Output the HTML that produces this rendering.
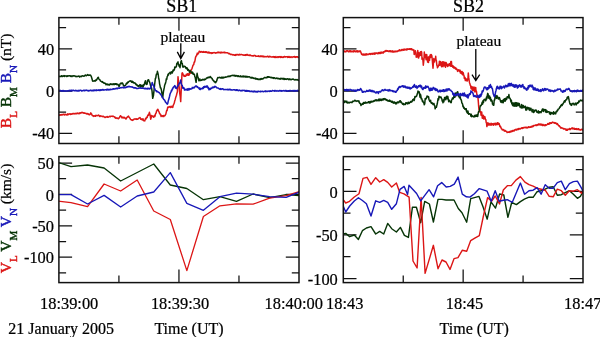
<!DOCTYPE html>
<html><head><meta charset="utf-8"><title>SB1 SB2</title><style>
html,body{margin:0;padding:0;background:#fff;}
body{width:600px;height:337px;overflow:hidden;}
svg{display:block;}
text{font-family:"Liberation Serif", "Times New Roman", serif;fill:#000;stroke:#000;stroke-width:0.22px;}
.tl{font-size:16.4px;}
.ax{font-size:15.5px;}
.bl{font-size:16px;}
</style></head><body>
<svg width="600" height="337" viewBox="0 0 600 337">
<rect width="600" height="337" fill="#fff"/>
<defs><clipPath id="ctl"><rect x="58.9" y="17.6" width="240.1" height="125.9"/></clipPath><clipPath id="ctr"><rect x="343.3" y="17.6" width="239.7" height="125.9"/></clipPath><clipPath id="cbl"><rect x="58.9" y="156.6" width="240.1" height="126"/></clipPath><clipPath id="cbr"><rect x="343.3" y="156.6" width="239.7" height="126"/></clipPath></defs>
<path d="M178.95 17.6v13.2M178.95 143.5v-13.2M118.92 17.6v7.2M118.92 143.5v-7.2M238.97 17.6v7.2M238.97 143.5v-7.2M58.9 48.86h13.2M299 48.86h-13.2M58.9 91.1h13.2M299 91.1h-13.2M58.9 133.34h13.2M299 133.34h-13.2M58.9 27.74h7.2M299 27.74h-7.2M58.9 69.98h7.2M299 69.98h-7.2M58.9 112.22h7.2M299 112.22h-7.2" stroke="#111" stroke-width="1.25" fill="none"/>
<path d="M463.15 17.6v13.2M463.15 143.5v-13.2M403.23 17.6v7.2M403.23 143.5v-7.2M523.08 17.6v7.2M523.08 143.5v-7.2M343.3 48.86h13.2M583 48.86h-13.2M343.3 91.1h13.2M583 91.1h-13.2M343.3 133.34h13.2M583 133.34h-13.2M343.3 27.74h7.2M583 27.74h-7.2M343.3 69.98h7.2M583 69.98h-7.2M343.3 112.22h7.2M583 112.22h-7.2" stroke="#111" stroke-width="1.25" fill="none"/>
<path d="M178.95 156.6v13.2M178.95 282.6v-13.2M118.92 156.6v7.2M118.92 282.6v-7.2M238.97 156.6v7.2M238.97 282.6v-7.2M58.9 163h13.2M299 163h-13.2M58.9 194.4h13.2M299 194.4h-13.2M58.9 225.8h13.2M299 225.8h-13.2M58.9 257.2h13.2M299 257.2h-13.2M58.9 178.7h7.2M299 178.7h-7.2M58.9 210.1h7.2M299 210.1h-7.2M58.9 241.5h7.2M299 241.5h-7.2M58.9 272.9h7.2M299 272.9h-7.2" stroke="#111" stroke-width="1.25" fill="none"/>
<path d="M463.15 156.6v13.2M463.15 282.6v-13.2M403.23 156.6v7.2M403.23 282.6v-7.2M523.08 156.6v7.2M523.08 282.6v-7.2M343.3 191.3h13.2M583 191.3h-13.2M343.3 234.9h13.2M583 234.9h-13.2M343.3 278.5h13.2M583 278.5h-13.2M343.3 169.5h7.2M583 169.5h-7.2M343.3 213.1h7.2M583 213.1h-7.2M343.3 256.7h7.2M583 256.7h-7.2" stroke="#111" stroke-width="1.25" fill="none"/>
<polyline clip-path="url(#ctl)" fill="none" stroke="#dc1616" stroke-width="1.5" stroke-linejoin="round" points="58.75,115.3 59.17,115.08 59.58,114.86 60,115.31 60.42,114.69 60.83,115.1 61.25,114.89 61.67,114.53 62.08,114.93 62.5,114.42 62.92,114.77 63.33,114.36 63.75,114.33 64.17,114.62 64.58,114.97 65,114.22 65.41,114.29 65.82,114.66 66.24,114.94 66.65,114.54 67.06,114.32 67.47,114.86 67.88,113.9 68.29,114.68 68.71,114.07 69.12,113.89 69.53,113.83 69.94,113.98 70.35,114.46 70.76,113.79 71.18,114.15 71.59,114.17 72,113.87 72.4,114 72.8,113.47 73.2,113.42 73.6,113.53 74,113.96 74.4,113.66 74.8,113.5 75.2,113.73 75.6,113.55 76,113.35 76.4,113.8 76.8,113.66 77.2,113.16 77.6,113.44 78,113.35 78.4,113.66 78.8,113.46 79.2,112.98 79.6,113.63 80,112.72 80.43,112.95 80.86,113.21 81.29,112.54 81.71,112.8 82.14,112.28 82.57,112.84 83,112.86 83.4,112.77 83.8,113.18 84.2,112.71 84.6,113.2 85,113.19 85.4,113.28 85.8,113.26 86.2,113.74 86.6,113.94 87,113.57 87.43,113.91 87.86,113.45 88.29,114.23 88.71,114.32 89.14,114.81 89.57,114.78 90,114.38 90.8,112.89 91.22,113.94 91.65,114.07 92.08,115.29 92.5,115.77 92.92,115.72 93.33,115.66 93.75,116.37 94.17,115.73 94.58,115.85 95,115.99 95.43,116.33 95.86,115.39 96.29,115.62 96.71,115.58 97.14,115.77 97.57,115.56 98,115.46 98.4,115.08 98.8,115.42 99.2,115.56 99.6,116.28 100,116.56 100.42,115.83 100.83,115.94 101.25,116.08 101.67,116.17 102.08,116.5 102.5,116.69 102.92,116.45 103.33,116.27 103.75,116.77 104.17,116.8 104.58,117.08 105,117.55 105.42,117.25 105.83,117.03 106.25,117.09 106.67,117.11 107.08,116.45 107.5,117.25 107.92,117.09 108.33,117.14 108.75,117.02 109.17,116.58 109.58,116.54 110,116.2 110.43,116.73 110.86,116.16 111.29,116.17 111.71,116.31 112.14,116.26 112.57,116.44 113,116.15 113.4,116.3 113.8,116.65 114.2,116.8 114.6,117.26 115,117.13 115.4,118.17 115.8,118.11 116.2,117.85 116.6,118.15 117,118.45 117.4,118.36 117.8,118.02 118.2,118.65 118.6,118.69 119,118.07 119.5,117.42 120,116.35 120.5,115.7 121,116.44 121.5,116.86 122,117.93 122.4,117.26 122.8,117.12 123.2,118.05 123.6,117.63 124,117.25 124.4,117.84 124.8,117.53 125.2,118.23 125.6,118.88 126,118.96 126.42,118.38 126.83,117.53 127.25,117.22 127.67,116.6 128.08,116.79 128.5,116.13 129,117.21 129.5,117.6 130,118.32 130.42,119.18 130.83,119.62 131.25,119.75 131.67,119.97 132.08,120.25 132.5,120.44 132.92,119.76 133.33,119.88 133.75,119.56 134.17,119.06 134.58,118.89 135,118.98 135.43,118.87 135.86,119.22 136.29,119.4 136.71,118.8 137.14,119.21 137.57,119.17 138,119.06 138.4,118.36 138.8,118.12 139.2,118.03 139.6,117.9 140,117.51 140.43,118.56 140.85,119.32 141.28,119.41 141.71,118.9 142.14,119.45 142.56,119.95 142.99,118.73 143.42,120.09 143.85,120.8 144.27,120.76 144.7,120.9 145.13,119.68 145.55,118.41 145.98,118.96 146.41,117.37 146.84,117.64 147.26,117.31 147.69,115.48 148.12,114.82 148.55,115.24 148.97,114.12 149.4,112.34 149.83,114.05 150.27,115.9 150.7,119.21 151.13,117.88 151.57,115.43 152,115.65 152.4,116.5 152.8,116.39 153.2,116.32 153.6,117.26 154,116.96 154.43,115.64 154.85,116.47 155.28,114.74 155.7,113.4 156.12,113.13 156.55,111.04 156.97,110.83 157.4,109.65 157.81,109.26 158.22,110.18 158.64,111.1 159.05,111.83 159.46,113.36 159.88,113.54 160.29,114.7 160.7,114.96 161.13,116.52 161.55,115.41 161.98,115.62 162.41,115.87 162.84,116.51 163.26,115.54 163.69,116.54 164.12,115.7 164.55,115.76 164.97,115.75 165.4,114.74 165.83,114.13 166.27,112.17 166.7,110.36 167.13,110.5 167.57,107.79 168,106.95 168.43,107.45 168.85,107.11 169.28,106.65 169.71,107.04 170.14,107.11 170.56,107.57 170.99,106.21 171.42,107.12 171.85,106.5 172.27,106.55 172.7,107.54 173.1,105.82 173.5,104.72 173.9,103.92 174.3,103.02 174.7,100.89 175.15,99.68 175.6,97.91 176.05,96.37 176.5,95.19 176.95,93.15 177.4,91.77 178,76.66 178.47,81.58 178.93,85.1 179.4,89.45 179.83,93.85 180.27,96.75 180.7,101.62 181.4,85.89 182,73.38 182.4,72.77 182.8,73.54 183.2,74.98 183.6,75.05 184,76.18 184.45,75.51 184.9,76.37 185.35,76.27 185.8,76.16 186.25,74.34 186.7,75.13 187.11,74.92 187.53,73.79 187.94,75.17 188.36,75.24 188.77,73.64 189.19,75.01 189.6,73.8 190,73.06 190.4,73.15 190.8,71.91 191.2,69.66 191.6,69.28 192,68.53 192.43,67.09 192.87,65.72 193.3,64.89 193.73,64.61 194.17,62.12 194.6,62.11 195.07,60.05 195.53,57.37 196,56.16 196.43,55.91 196.87,54.86 197.3,53.13 197.8,54.3 198.3,53.24 198.8,52.94 199.22,51.2 199.63,51.51 200.05,51.51 200.47,52.25 200.88,51.73 201.3,51.58 201.72,51.86 202.13,52.34 202.55,52.24 202.97,51.68 203.38,51.56 203.8,52.32 204.21,52.03 204.63,52.21 205.04,51.66 205.46,51.69 205.87,52.37 206.29,52.17 206.7,51.87 207.11,52.8 207.53,52.55 207.94,52.77 208.36,52.11 208.77,52.94 209.19,52.21 209.6,53.06 210.01,52.71 210.43,52.65 210.84,52.92 211.26,53.36 211.67,52.75 212.09,52.67 212.5,53.13 212.91,52.81 213.32,52.66 213.73,52.68 214.14,52.54 214.55,52.67 214.96,52.75 215.37,52.72 215.78,53.15 216.19,52.65 216.6,52.83 217.01,52.48 217.42,52.63 217.83,52.27 218.24,52.48 218.65,52.22 219.06,52.91 219.47,52.7 219.88,52.31 220.29,52.57 220.7,53 221.11,52.15 221.52,52.83 221.93,52.42 222.34,52.46 222.75,52.77 223.16,52.3 223.57,52.39 223.98,52.54 224.39,52.81 224.8,52.14 225.21,52.77 225.62,52.78 226.03,52.85 226.44,52.75 226.85,52.83 227.26,52.68 227.67,52.89 228.08,52.97 228.49,53.77 228.91,53.42 229.32,53.47 229.73,53.53 230.14,54.42 230.55,54.59 230.96,54.52 231.37,54.27 231.78,54.37 232.19,54.56 232.6,54.86 233,54.56 233.41,54.85 233.81,54.66 234.21,55.36 234.61,55.37 235.02,54.95 235.42,54.64 235.82,55.37 236.22,54.71 236.63,54.76 237.03,54.4 237.43,54.78 237.84,54.87 238.24,54.9 238.64,54.6 239.04,54.9 239.45,54.4 239.85,54.66 240.25,54.49 240.65,54.8 241.06,54.44 241.46,54.42 241.86,54.7 242.26,54.63 242.67,54.99 243.07,54.93 243.47,55.15 243.88,55.06 244.28,55.12 244.68,55.28 245.08,54.79 245.49,54.73 245.89,55.38 246.29,54.55 246.69,55.12 247.1,55.04 247.5,54.44 247.9,55.29 248.3,55.4 248.7,55.19 249.1,55.35 249.5,55.48 249.9,54.87 250.3,55.31 250.7,55.34 251.1,55.73 251.5,55.75 251.9,55.83 252.3,55.64 252.7,56 253.1,55.85 253.5,55.91 253.9,55.5 254.3,55.36 254.7,55.51 255.1,55.8 255.5,55.6 255.9,56.38 256.3,56.16 256.71,56.25 257.11,56.27 257.52,56.34 257.93,56.17 258.33,55.71 258.74,56.52 259.15,56.49 259.56,56.27 259.96,56.32 260.37,56.47 260.78,55.9 261.18,56.59 261.59,56.12 262,55.97 262.4,56.18 262.81,56.66 263.22,56.16 263.63,56.72 264.03,56.97 264.44,56.51 264.85,56.42 265.25,56.54 265.66,56.77 266.07,56.87 266.47,56.74 266.88,56.79 267.29,56.24 267.7,56.33 268.1,56.46 268.51,56.97 268.92,56.55 269.32,56.84 269.73,56.3 270.14,56.37 270.54,56.6 270.95,57.03 271.36,57.07 271.77,57.07 272.17,56.71 272.58,56.95 272.99,56.92 273.39,56.95 273.8,56.62 274.21,57.39 274.61,56.7 275.02,57.48 275.43,57.44 275.83,56.52 276.24,56.96 276.65,57.32 277.05,57.47 277.46,56.95 277.86,56.77 278.27,56.71 278.68,57.45 279.08,56.71 279.49,57.08 279.9,56.64 280.3,57.02 280.71,57.45 281.12,56.63 281.52,57.32 281.93,57.01 282.34,57.39 282.74,57.2 283.15,56.73 283.55,57.4 283.96,56.99 284.37,56.52 284.77,56.5 285.18,56.99 285.59,56.95 285.99,56.8 286.4,56.64 286.81,56.84 287.21,56.82 287.62,57.34 288.03,56.5 288.43,57.25 288.84,57.34 289.25,56.62 289.65,57.43 290.06,57.21 290.46,57.4 290.87,56.79 291.28,56.87 291.68,56.89 292.09,57.5 292.5,57.09 292.9,56.86 293.31,56.93 293.72,56.78 294.12,56.55 294.53,56.6 294.94,57.33 295.34,56.79 295.75,57.44 296.15,56.75 296.56,56.77 296.97,57.01 297.37,56.69 297.78,56.87 298.19,57.46 298.59,57.38 299,57"/>
<polyline clip-path="url(#ctl)" fill="none" stroke="#063406" stroke-width="1.5" stroke-linejoin="round" points="58.75,76.2 59.15,76.5 59.55,76.32 59.96,76.59 60.36,76.61 60.76,76.21 61.16,76.38 61.56,75.7 61.96,76.38 62.37,76.09 62.77,76.38 63.17,76.27 63.57,75.9 63.97,75.66 64.38,76.53 64.78,75.72 65.18,76.06 65.58,75.92 65.98,75.87 66.38,76.3 66.79,76.53 67.19,75.81 67.59,76.2 67.99,75.84 68.39,76.09 68.79,75.92 69.2,75.68 69.6,75.67 70,75.71 70.4,76.43 70.8,76.05 71.2,75.79 71.6,76.5 72,76.62 72.4,76.09 72.8,75.81 73.2,75.88 73.6,75.81 74,76.08 74.4,75.86 74.8,76.03 75.2,76.07 75.6,76.41 76,76.75 76.4,76.63 76.8,76.32 77.2,76.35 77.6,76.48 78,76.36 78.4,76.34 78.8,76.09 79.2,76.33 79.6,77.04 80,76.23 80.42,76.52 80.83,76.56 81.25,76.71 81.67,75.98 82.08,75.95 82.5,75.85 82.92,75.92 83.33,75.88 83.75,76.3 84.17,76.12 84.58,76.06 85,75.12 85.44,75.04 85.87,75.63 86.31,75.72 86.75,75.21 87.18,75.23 87.62,74.55 88.05,74.83 88.49,75.38 88.93,75.17 89.36,75.12 89.8,75.17 90.22,74.92 90.65,75.38 91.08,76.06 91.5,77.13 92.05,79.07 92.6,81.13 93,80.95 93.4,80.94 93.8,81.17 94.2,80.88 94.6,81.08 95,80.55 95.5,80.94 96,79.78 96.5,80.1 96.95,79.27 97.4,78.36 97.85,77.65 98.3,77.3 98.72,78.51 99.15,79.34 99.58,79.38 100,80.08 100.4,80.93 100.8,81.3 101.2,81.37 101.6,81.47 102,82.22 102.4,81.61 102.8,82.06 103.2,82.35 103.6,83.05 104,82.77 104.4,83.38 104.8,83.21 105.2,83.24 105.6,83.58 106,84.75 106.4,84.55 106.8,84.17 107.2,83.93 107.6,84.6 108,84.91 108.4,84.55 108.8,84.31 109.2,84.75 109.6,85.01 110,84.12 110.4,83.84 110.8,84.16 111.2,84.2 111.6,84.47 112,83.84 112.4,84.54 112.8,84.45 113.2,84.15 113.6,83.77 114,84.66 114.4,83.85 114.8,84.44 115.2,83.72 115.6,83.69 116,84.31 116.4,83.89 116.8,84.82 117.2,84.41 117.6,84.18 118,84.37 118.5,85.35 119,86.4 119.5,85.87 120,84.04 120.5,83.47 121,83.01 121.5,83.67 122,82.92 122.5,83.06 123,84.12 123.5,85.57 124,86.01 124.5,85.83 125,85.48 125.4,85.38 125.8,84.88 126.2,83.74 126.6,83.14 127,83.62 127.42,83.1 127.83,81.94 128.25,82.4 128.67,81.75 129.08,81.45 129.5,81.1 129.92,80.95 130.33,80.8 130.75,81.19 131.17,81.32 131.58,82.1 132,81.15 132.4,82.36 132.8,81.65 133.2,82.03 133.6,82.79 134,82.99 134.4,82.84 134.8,82.7 135.2,83.53 135.6,83.75 136,84.62 136.4,84.29 136.8,84.86 137.2,85.8 137.6,85.33 138,86.11 138.4,86.41 138.8,86.27 139.2,85.44 139.6,85.33 140,84.56 140.43,86.8 140.85,85.09 141.28,86.38 141.7,86.79 142.12,85.34 142.55,85.18 142.97,86.98 143.4,86.1 143.8,84.42 144.2,84.84 144.6,83.04 145,82.18 145.4,80.71 145.83,83.33 146.27,84.42 146.7,84.35 147.1,84.09 147.5,80.64 147.9,80.13 148.3,79.7 148.7,79.89 149.13,81.65 149.57,81.94 150,83.35 150.4,85.02 150.8,86.38 151.2,88.71 151.6,87.98 152,90.79 152.7,98.32 153.4,95.84 153.8,92.45 154.2,88.76 154.6,84.77 155,81.49 155.4,78.34 155.8,78.09 156.2,74.93 156.6,73.89 157,74 157.4,71.34 157.83,72.98 158.27,75.02 158.7,78.49 159.13,80.01 159.57,83.83 160,85.7 160.4,87.83 160.8,87.81 161.2,89.2 161.6,91.09 162,94 162.7,97.55 163.1,94.4 163.5,91.39 163.9,89.4 164.3,87.47 164.7,85.15 165.11,84.09 165.52,83.1 165.94,81.38 166.35,78.72 166.76,79.34 167.18,76.66 167.59,76.12 168,74.37 168.43,75.02 168.85,73.32 169.28,73.14 169.71,72.84 170.14,72.3 170.56,73.9 170.99,72.8 171.42,71.85 171.85,71.73 172.27,72.98 172.7,71.42 173.11,70.03 173.52,70.85 173.94,69.77 174.35,69.98 174.76,66.99 175.18,67.28 175.59,67.5 176,66.89 176.4,66.42 176.8,63.48 177.2,63.48 177.6,62.37 178,61.89 178.4,64.73 178.8,64.52 179.2,66.22 179.6,65.57 180,67.65 180.47,64.33 180.93,61.61 181.4,60.72 181.83,63.39 182.27,63.44 182.7,66.95 183.15,67.13 183.6,66.2 184.05,66.71 184.5,66.23 184.95,66.51 185.4,66.76 185.8,68.06 186.2,68.59 186.6,67.83 187,67.73 187.4,68.95 187.8,70.26 188.2,69.38 188.6,70.11 189,70.23 189.4,72.17 189.83,71.77 190.25,70.76 190.68,71.11 191.1,72.13 191.53,72.78 191.95,73.26 192.38,72.09 192.8,72.53 193.2,74.31 193.6,73.97 194,74.04 194.4,74.5 194.8,76.58 195.23,77.35 195.67,80.44 196.1,82.33 196.6,77.33 197.1,73.35 197.57,76.22 198.03,77.11 198.5,79.21 198.95,80.74 199.4,79.53 199.81,78.96 200.21,80.58 200.62,80.04 201.03,80.38 201.43,79.91 201.84,80.32 202.25,79.84 202.65,79.48 203.06,79.27 203.47,79.75 203.87,79.78 204.28,79.99 204.69,79.11 205.09,79.58 205.5,79.27 205.95,78.98 206.4,78.2 206.85,77.91 207.3,77.72 207.74,78.01 208.18,77.08 208.61,77.35 209.05,77.55 209.49,77.6 209.93,76.72 210.36,76.54 210.8,77.24 211.23,77.93 211.65,78.08 212.07,78.3 212.5,79.83 212.96,79.79 213.41,80.8 213.87,81.02 214.33,81.72 214.79,81.56 215.24,82.69 215.7,82.62 216.12,81.76 216.54,81.17 216.96,80.11 217.38,78.42 217.8,77.42 218.23,77.6 218.67,77.72 219.1,77.58 219.53,77.32 219.97,77.45 220.4,77.92 220.83,78.1 221.27,77.24 221.7,77.76 222.13,77.96 222.57,77.24 223,78.04 223.42,77.23 223.83,77.62 224.25,77.48 224.67,77.46 225.09,77.05 225.5,77.07 225.92,77.14 226.34,76.9 226.76,77.04 227.17,76.73 227.59,76.63 228.01,76.13 228.43,76.63 228.84,76.41 229.26,76.07 229.68,76.5 230.1,76.43 230.51,76.01 230.93,75.64 231.35,75.85 231.77,75.39 232.18,75.32 232.6,75.53 233,75.22 233.41,75.61 233.81,75.71 234.21,75.27 234.61,75.9 235.02,75.38 235.42,76.06 235.82,76.14 236.22,75.9 236.63,75.48 237.03,75.96 237.43,75.87 237.84,76.47 238.24,75.69 238.64,76.44 239.04,76.62 239.45,76.38 239.85,76.5 240.25,75.91 240.65,76.73 241.06,76.27 241.46,76.77 241.86,76.76 242.26,76.04 242.67,76.7 243.07,76.87 243.47,76.04 243.88,76.36 244.28,76.8 244.68,76.23 245.08,77 245.49,76.41 245.89,76.99 246.29,76.35 246.69,76.74 247.1,77.19 247.5,76.51 247.91,76.65 248.32,76.98 248.73,76.88 249.14,76.68 249.55,76.92 249.96,76.98 250.37,77.84 250.78,77.67 251.19,77.98 251.6,77.34 252.01,78.04 252.42,77.46 252.83,77.96 253.24,78.15 253.65,77.96 254.06,78.56 254.47,78.33 254.88,78.44 255.29,78.83 255.7,78.14 256.11,79.11 256.52,78.84 256.93,78.69 257.34,79.18 257.75,78.73 258.16,79.54 258.57,79.22 258.98,79.09 259.39,79.58 259.8,79.34 260.22,78.96 260.63,79.4 261.05,78.59 261.46,79.24 261.88,78.55 262.29,78.81 262.71,79.04 263.13,78.52 263.54,78.47 263.96,78 264.37,77.57 264.79,77.48 265.21,77.48 265.62,77.82 266.04,77.52 266.45,77.48 266.87,77.74 267.28,76.85 267.7,76.83 268.1,77.31 268.5,76.74 268.9,76.78 269.3,77.19 269.7,77 270.1,77.31 270.5,77.23 270.9,77.65 271.3,77.71 271.7,77.39 272.1,77.87 272.5,77.77 272.9,77.49 273.3,78.35 273.7,77.72 274.1,77.68 274.5,77.69 274.9,78.29 275.3,78.58 275.7,78.55 276.1,78.23 276.5,78.15 276.9,77.95 277.3,78.64 277.7,78.59 278.1,78.4 278.51,78.72 278.91,78.55 279.31,79.07 279.71,78.89 280.11,78.43 280.51,79.11 280.92,78.28 281.32,78.79 281.72,78.69 282.12,78.55 282.52,78.4 282.93,79.14 283.33,78.4 283.73,78.97 284.13,79.38 284.53,78.61 284.94,78.69 285.34,79.13 285.74,79.05 286.14,79.21 286.54,79.41 286.94,78.8 287.35,78.96 287.75,78.97 288.15,78.75 288.55,79.62 288.95,79.53 289.36,79.49 289.76,78.81 290.16,79.67 290.56,79.6 290.96,79.35 291.36,79.65 291.77,79.39 292.17,79.19 292.57,79.09 292.97,79.24 293.37,79.08 293.78,79.4 294.18,79.84 294.58,79.81 294.98,79.99 295.38,79.88 295.79,79.46 296.19,79.77 296.59,79.68 296.99,80.06 297.39,79.82 297.79,79.59 298.2,79.99 298.6,80.34 299,79.9"/>
<polyline clip-path="url(#ctl)" fill="none" stroke="#1818b8" stroke-width="1.5" stroke-linejoin="round" points="58.75,90.8 59.15,90.54 59.56,91.13 59.96,90.35 60.36,90.57 60.76,90.54 61.17,91 61.57,91.18 61.97,90.99 62.38,90.61 62.78,91.11 63.18,90.61 63.59,90.52 63.99,91.12 64.39,90.87 64.79,90.92 65.2,90.89 65.6,91.17 66,90.71 66.41,91.04 66.81,90.91 67.21,91.05 67.61,90.67 68.02,90.92 68.42,90.78 68.82,90.54 69.23,90.45 69.63,90.82 70.03,90.32 70.44,91.07 70.84,90.37 71.24,90.26 71.64,90.33 72.05,91.07 72.45,90.54 72.85,90.35 73.26,90.25 73.66,90.26 74.06,90.84 74.46,90.78 74.87,90.84 75.27,90.87 75.67,90.26 76.08,90.73 76.48,90.52 76.88,90.93 77.29,90.93 77.69,90.99 78.09,90.24 78.49,90.96 78.9,91 79.3,91.02 79.7,90.26 80.11,90.35 80.51,90.26 80.91,90.19 81.31,90.92 81.72,90.88 82.12,90.72 82.52,90.88 82.93,90.71 83.33,90.39 83.73,90.22 84.14,90.22 84.54,90.81 84.94,90.31 85.34,90.4 85.75,90.49 86.15,90.13 86.55,90.34 86.96,90.36 87.36,90.74 87.76,90.43 88.16,90.38 88.57,90.96 88.97,90.54 89.37,90.85 89.78,90.63 90.18,90.1 90.58,90.44 90.99,90.46 91.39,90.76 91.79,90.37 92.19,90.69 92.6,90.54 93,90.24 93.4,90.8 93.81,90.08 94.21,90.72 94.62,90.11 95.02,89.93 95.43,90.09 95.83,90.57 96.24,90.74 96.64,89.84 97.05,90.25 97.45,90.23 97.86,90.48 98.26,89.91 98.67,90.16 99.07,90.01 99.48,90.42 99.88,89.88 100.29,90.47 100.69,89.85 101.1,89.77 101.5,90.18 101.9,89.97 102.31,89.6 102.71,90.05 103.12,89.53 103.52,90.14 103.93,90.03 104.33,90.09 104.74,89.92 105.14,89.66 105.55,89.67 105.95,89.64 106.36,90.07 106.76,89.32 107.17,90.02 107.57,89.22 107.98,89.35 108.38,89.38 108.79,89.93 109.19,89.55 109.6,89.42 110,89.85 110.4,89.2 110.8,89.34 111.2,89.35 111.6,89.49 112,89.43 112.4,89.27 112.8,88.94 113.2,88.86 113.6,88.65 114,89.21 114.4,88.99 114.8,89 115.2,88.42 115.6,88.6 116,88.85 116.4,88.61 116.8,88.14 117.2,88.39 117.6,88.71 118,88.06 118.4,87.96 118.8,88 119.2,88.3 119.6,88.37 120,87.69 120.4,87.63 120.8,87.66 121.2,87.68 121.6,87.8 122,87.41 122.4,87.51 122.8,87.33 123.2,87.98 123.6,87.7 124,87.08 124.4,87.8 124.8,86.97 125.2,87.17 125.6,87.65 126,87.43 126.4,87.31 126.8,86.99 127.2,86.72 127.6,87.06 128,86.53 128.4,86.56 128.8,86.67 129.2,86.29 129.6,86.57 130,86.86 130.41,86.87 130.82,86.8 131.24,87.02 131.65,86.97 132.06,86.78 132.47,87.29 132.88,87.21 133.29,87.62 133.71,87.87 134.12,87.54 134.53,87.77 134.94,88.02 135.35,87.83 135.76,87.76 136.18,88.3 136.59,88.54 137,88.55 137.43,88.44 137.86,88.53 138.29,88.33 138.71,88.26 139.14,88.04 139.57,87.87 140,88.12 140.4,87.67 140.8,88 141.2,88.36 141.6,88.33 142,88.29 142.4,87.99 142.8,88.18 143.2,88.24 143.6,88.42 144,88.27 144.4,88.54 144.8,88.81 145.2,88.17 145.6,88.63 146,88.78 146.4,88.46 146.8,88.59 147.2,89.06 147.6,88.25 148,88.74 148.45,88.33 148.9,88.82 149.35,88.9 149.8,88.45 150.25,88.01 150.7,88.37 151.2,86.4 151.7,84.63 152.2,82.51 152.63,83.69 153.07,84.93 153.5,85.72 153.97,86.77 154.45,88.4 154.93,88.89 155.4,90.47 155.82,90.49 156.24,91.12 156.65,90.83 157.07,91.9 157.49,91.62 157.91,91.65 158.33,92.13 158.75,92.54 159.16,92.48 159.58,93.14 160,93.43 160.4,94.3 160.8,94.61 161.2,95.15 161.6,95.73 162,96.82 162.4,97.62 162.8,97.86 163.2,98.21 163.6,99.35 164,99.6 164.43,100.03 164.85,100.54 165.28,101.71 165.7,102.33 166.12,102.76 166.55,103.2 166.97,103.87 167.4,104.15 167.83,103.13 168.27,100.9 168.7,99.47 169.13,97.95 169.57,96.27 170,94.24 170.45,92.93 170.9,92.39 171.35,90.63 171.8,90.9 172.25,89.04 172.7,88.93 173.1,87.46 173.5,87.24 173.9,86.6 174.3,86.49 174.7,85.63 175.12,86 175.55,88 175.97,87.91 176.4,88.54 176.93,87.54 177.47,86.76 178,85.57 178.45,85.11 178.9,84.32 179.35,82.95 179.8,83.14 180.25,82.17 180.7,79.9 181.1,82.65 181.5,84.15 181.9,85.29 182.3,85.49 182.7,88.1 183.15,88.19 183.6,87.53 184.05,87.97 184.5,90.11 184.95,90.03 185.4,89.75 185.8,89.36 186.2,89.32 186.6,89.36 187,90.22 187.4,89.32 187.8,88.85 188.2,90.09 188.6,89.77 189,88.52 189.4,89.7 189.81,89.04 190.22,89.19 190.64,88.83 191.05,89.08 191.46,88.74 191.88,88.67 192.29,87.36 192.7,88.1 193.11,87.65 193.53,87.87 193.94,87.17 194.35,87.81 194.76,87.07 195.18,86.39 195.59,86.18 196,85.85 196.43,86.74 196.86,86.21 197.29,87.19 197.72,86.86 198.15,87.73 198.58,88 199.01,88.32 199.44,89.15 199.87,87.86 200.3,89.61 200.71,88.76 201.12,88.75 201.54,88.75 201.95,88.88 202.36,87.86 202.77,87.76 203.18,88.55 203.59,86.78 204.01,87.61 204.42,87.42 204.83,86.15 205.24,87.01 205.65,86.96 206.06,87.22 206.48,85.96 206.89,86.95 207.3,85.92 207.73,86.75 208.15,88.37 208.57,87.69 209,89.79 209.41,89.43 209.81,88.71 210.22,89.45 210.63,88.36 211.03,88.35 211.44,88.25 211.85,88.49 212.25,87.28 212.66,87.48 213.07,87.26 213.47,87.3 213.88,87.59 214.29,86.43 214.69,87.19 215.1,86.31 215.5,86.64 215.9,86.67 216.3,87.11 216.7,87.77 217.1,87.72 217.5,88.08 217.9,87.9 218.3,88.13 218.7,88.35 219.1,88.84 219.5,89.12 219.9,89.28 220.3,88.64 220.7,89.28 221.1,89.45 221.5,89.17 221.9,88.75 222.3,89 222.7,88.76 223.1,88.95 223.5,89.64 223.9,89.38 224.3,89.45 224.7,89.59 225.1,89.73 225.5,89.49 225.9,89.52 226.3,89.55 226.7,89.64 227.1,89.58 227.5,89.68 227.9,89.28 228.3,89.72 228.7,89.55 229.1,89.85 229.5,89.28 229.9,89.38 230.3,89.28 230.7,89.97 231.1,90.12 231.5,89.91 231.9,89.68 232.3,90.11 232.7,90.11 233.1,89.93 233.5,89.68 233.9,89.75 234.3,89.89 234.7,89.83 235.1,89.96 235.5,90.19 235.9,90.48 236.3,89.72 236.7,90.21 237.1,89.77 237.5,89.87 237.9,90.53 238.3,90.35 238.7,90.69 239.1,90.29 239.5,89.94 239.9,90.3 240.3,90.52 240.7,90.86 241.1,90.93 241.5,90.51 241.9,90.48 242.3,90.24 242.7,90.76 243.1,90.4 243.5,90.38 243.9,90.29 244.3,90.31 244.7,90.95 245.1,90.48 245.5,91.27 245.9,90.51 246.3,91.24 246.7,90.61 247.1,90.54 247.5,91.2 247.9,90.8 248.3,91.28 248.7,90.82 249.1,90.73 249.5,91.41 249.9,91.39 250.3,91.55 250.7,91.46 251.1,90.92 251.5,91.44 251.9,91.54 252.3,91.35 252.7,91.8 253.1,91.23 253.5,91.9 253.9,91.71 254.3,91.1 254.7,91.14 255.1,91.74 255.5,91.92 255.9,91.29 256.3,91.53 256.71,91.89 257.11,91.36 257.52,91.96 257.93,91.6 258.33,91.2 258.74,91.46 259.15,91.62 259.56,91.48 259.96,91.67 260.37,91.17 260.78,91.74 261.18,91.33 261.59,91.56 262,91.52 262.4,91.31 262.81,91.26 263.22,91.6 263.63,91.72 264.03,91.56 264.44,91.34 264.85,91.07 265.25,90.84 265.66,91.65 266.07,91.38 266.47,91.47 266.88,91 267.29,91.23 267.7,91.54 268.1,91.39 268.51,91.16 268.92,90.88 269.32,90.97 269.73,91.36 270.14,90.88 270.54,91.13 270.95,91.04 271.36,91.28 271.77,91.18 272.17,90.69 272.58,90.41 272.99,90.63 273.39,90.75 273.8,90.88 274.21,91.08 274.61,91.15 275.02,90.39 275.43,91.1 275.83,91.08 276.24,91.13 276.65,90.86 277.05,90.6 277.46,91.12 277.86,91.08 278.27,90.97 278.68,91.17 279.08,90.66 279.49,90.43 279.9,90.85 280.3,91.07 280.71,90.53 281.12,91.03 281.52,91.19 281.93,90.56 282.34,90.9 282.74,90.96 283.15,90.77 283.55,90.54 283.96,90.58 284.37,91.03 284.77,91.06 285.18,90.76 285.59,90.43 285.99,91.08 286.4,91.04 286.81,90.56 287.21,90.87 287.62,91.16 288.03,91.15 288.43,90.82 288.84,90.78 289.25,90.88 289.65,90.52 290.06,90.52 290.46,90.51 290.87,90.98 291.28,90.68 291.68,90.86 292.09,90.71 292.5,90.82 292.9,90.48 293.31,90.39 293.72,91.25 294.12,90.69 294.53,90.45 294.94,90.92 295.34,91.06 295.75,90.49 296.15,90.89 296.56,90.66 296.97,90.82 297.37,90.37 297.78,90.38 298.19,91.24 298.59,91.13 299,90.8"/>
<polyline clip-path="url(#ctr)" fill="none" stroke="#dc1616" stroke-width="1.5" stroke-linejoin="round" points="343.2,51.3 343.5,51.28 343.8,51.38 344.11,51.01 344.41,51.64 344.71,51.21 345.01,51.84 345.31,51.62 345.61,51.68 345.92,51.86 346.22,51 346.52,50.75 346.82,50.94 347.12,50.92 347.42,50.8 347.73,50.76 348.03,51.37 348.33,51.74 348.63,51.25 348.93,51.84 349.24,51.79 349.54,50.78 349.84,51.42 350.14,51.18 350.44,50.84 350.74,51.85 351.05,51.01 351.35,51.38 351.65,51.47 351.95,51.85 352.25,51.5 352.55,51.17 352.86,51.24 353.16,50.89 353.46,51.86 353.76,51.89 354.06,50.97 354.36,50.75 354.67,51.01 354.97,51.12 355.27,51.78 355.57,51.79 355.87,51.7 356.18,50.76 356.48,51.64 356.78,51.55 357.08,51.48 357.38,51.88 357.68,50.77 357.99,50.87 358.29,51.61 358.59,51.83 358.89,51.51 359.19,51.06 359.49,51.41 359.8,51.61 360.1,50.83 360.4,51.09 360.72,51.88 361.05,52.6 361.38,53.9 361.7,54.4 362.01,54.46 362.32,54.32 362.62,54.93 362.93,54.11 363.24,54.93 363.55,54.27 363.85,54.05 364.16,55.1 364.47,54.22 364.78,55.05 365.08,54.94 365.39,54.94 365.7,54.02 366.01,54.36 366.32,53.91 366.62,54.88 366.93,54.75 367.24,54.47 367.55,54.23 367.85,54.07 368.16,54.62 368.47,54.18 368.78,54.33 369.08,53.73 369.39,53.79 369.7,53.57 370,54.32 370.3,54.1 370.61,53.57 370.91,54.41 371.21,53.65 371.51,53.79 371.82,53.45 372.12,53.55 372.42,54.2 372.72,53.56 373.02,53.33 373.33,53.68 373.63,53.44 373.93,54.11 374.23,53.13 374.54,54.13 374.84,52.99 375.14,53.96 375.44,53.65 375.75,53.07 376.05,53.36 376.35,53.09 376.65,53.03 376.95,52.92 377.26,53.08 377.56,53.8 377.86,53.78 378.16,53.66 378.47,52.63 378.77,52.82 379.07,53.52 379.37,52.48 379.68,53.25 379.98,52.69 380.28,53.48 380.58,52.29 380.88,53.21 381.19,52.61 381.49,52.34 381.79,52.14 382.09,53.1 382.4,52.7 382.7,52.26 383,52.52 383.34,52.89 383.68,51.86 384.01,52.09 384.35,51.37 384.69,51.22 385.02,51.72 385.36,51.45 385.7,50.64 386.01,50.52 386.31,50.54 386.62,51.19 386.92,51.07 387.23,50.83 387.53,50.77 387.84,51.27 388.15,51.41 388.45,51.55 388.76,51.3 389.06,50.86 389.37,50.72 389.67,51.54 389.98,51.17 390.29,51.57 390.59,50.79 390.9,51.71 391.2,51.16 391.51,51.79 391.81,51.84 392.12,51.41 392.43,50.86 392.73,51.95 393.04,51.45 393.34,51.95 393.65,51.24 393.95,51.16 394.26,51.96 394.57,51.42 394.87,51.2 395.18,51.47 395.48,51.75 395.79,51.07 396.09,51.7 396.4,51.63 396.72,51.56 397.05,50.92 397.38,51.47 397.7,51.43 398.02,51.33 398.35,50.51 398.68,50.82 399,50.26 399.3,50.67 399.61,49.8 399.91,50.74 400.21,50.8 400.51,50.22 400.81,50.21 401.12,50.19 401.42,50.16 401.72,49.51 402.02,50.61 402.33,49.68 402.63,49.6 402.93,49.47 403.24,49.61 403.54,50.26 403.84,49.28 404.14,49.32 404.44,50.01 404.75,49.37 405.05,49.12 405.35,49.78 405.66,49.72 405.96,49.62 406.26,49.8 406.56,49.05 406.87,49.93 407.17,49.72 407.47,48.87 407.77,48.93 408.08,49.34 408.38,49.32 408.68,49.02 408.98,48.79 409.29,49.1 409.59,48.74 409.89,49.25 410.19,49.54 410.5,48.65 410.8,49.12 411.1,49.3 411.44,48.72 411.78,49.64 412.11,49.9 412.45,49.37 412.79,49.53 413.12,50.16 413.46,49.91 413.8,49.87 414.2,54.56 414.6,54.08 415,51.41 415.31,50.78 415.62,51.69 415.92,52.65 416.23,57.17 416.54,55.9 416.85,56.93 417.15,56.3 417.46,56.71 417.77,50.51 418.08,54.38 418.38,58.06 418.69,58.02 419,52.69 419.3,54.16 419.6,55.93 419.9,53.87 420.2,55.28 420.5,51.67 420.8,54.66 421.1,55.32 421.4,51.53 421.7,52.57 422,59.29 422.3,57.83 422.6,59.2 422.95,60.27 423.3,65.17 423.65,62.27 424,58.78 424.3,52.07 424.6,57.03 424.9,54.13 425.2,57.53 425.5,54.39 425.8,56.64 426.1,59.8 426.4,57.47 426.7,54.6 427,56.86 427.3,57.07 427.6,62.11 427.9,57.7 428.2,58.74 428.5,62.38 428.83,56.66 429.17,58.95 429.5,60.35 429.8,56.91 430.1,55.05 430.4,56.73 430.7,57.37 431,54.39 431.4,54.86 431.8,55.58 432.2,58.75 432.6,63.64 433,68.25 433.4,63.44 433.8,58.51 434.11,59.73 434.43,61.93 434.74,59.95 435.06,59.49 435.37,59.99 435.69,56.25 436,60.18 436.3,60.19 436.6,62.88 436.9,65.4 437.2,65.96 437.5,67.77 437.81,67.07 438.12,66.42 438.44,66.14 438.75,64.8 439.06,65.39 439.38,61.32 439.69,62.74 440,65.17 440.3,61.58 440.6,63.64 440.9,63.4 441.2,62.31 441.5,66.68 441.8,62.67 442.1,65.68 442.4,62.15 442.7,61.75 443,66.73 443.31,64.14 443.62,61.87 443.92,63.83 444.23,64.14 444.54,65.91 444.85,62.16 445.15,62.85 445.46,67.26 445.77,65.93 446.08,62.43 446.38,63.52 446.69,63.61 447,65.55 447.32,65.11 447.64,66.42 447.95,66.15 448.27,64.24 448.59,65.48 448.91,65.41 449.23,65.42 449.55,63.62 449.86,65.39 450.18,64.84 450.5,65.99 450.82,61.58 451.14,66.36 451.45,61.48 451.77,66.37 452.09,65.37 452.41,65.4 452.73,67.21 453.05,66.28 453.36,66.1 453.68,67.59 454,68.19 454.31,67.61 454.62,67.15 454.92,67.65 455.23,67.94 455.54,69.06 455.85,67.95 456.15,68.53 456.46,69.33 456.77,69.05 457.08,69.12 457.38,70.88 457.69,71.35 458,70.5 458.31,70.47 458.62,69.8 458.92,70.33 459.23,69.98 459.54,71.51 459.85,71.68 460.15,70.26 460.46,73.08 460.77,71.32 461.08,73.14 461.38,73.27 461.69,73.81 462,71.55 462.33,72.76 462.67,74.81 463,72.43 463.33,73.05 463.67,75.21 464,75.49 464.33,78.44 464.67,78.2 465,77.47 465.33,80.62 465.67,78.51 466,79.1 466.3,80.44 466.6,79.18 466.9,79.4 467.2,81.13 467.5,80.17 467.9,79.01 468.3,72.99 468.75,77.64 469.2,80.75 469.57,82.96 469.93,83.78 470.3,85.34 470.65,85.91 471,88.13 471.34,88.94 471.68,86.6 472.01,86.68 472.35,88.05 472.69,90.47 473.02,87.15 473.36,88.53 473.7,90.47 474.04,87.02 474.38,88.01 474.71,91.87 475.05,91.18 475.39,89.58 475.72,87.49 476.06,92.05 476.4,91.06 476.72,93.47 477.05,96.1 477.38,97.2 477.7,96.26 478.02,98.1 478.35,102.17 478.68,106.74 479,110.03 479.34,108.75 479.68,109.22 480.01,112.23 480.35,112.58 480.69,111.68 481.02,115.17 481.36,114.1 481.7,111.99 482,115.11 482.3,118.27 482.61,116.26 482.92,118.06 483.23,115.15 483.54,116.58 483.86,119.06 484.17,118.05 484.48,118.52 484.79,116.55 485.1,117.99 485.46,119.51 485.82,119.53 486.18,122.49 486.54,123.26 486.9,126.59 487.2,124.73 487.51,124.01 487.81,122.73 488.12,123.64 488.42,124.97 488.73,123.53 489.03,123.52 489.34,123.68 489.64,124.45 489.95,125.11 490.25,124.65 490.56,125.07 490.86,123.44 491.17,123.33 491.47,125 491.78,124.01 492.08,124.87 492.39,124.08 492.69,123.67 493,123.89 493.3,123.52 493.61,125.23 493.92,124.47 494.23,123.9 494.54,124.07 494.86,123.87 495.17,123.09 495.48,124.87 495.79,124.14 496.1,124.91 496.41,123.71 496.72,124.05 497.03,123.18 497.34,122.67 497.66,124.57 497.97,124.35 498.28,123.1 498.59,124.33 498.9,124.09 499.2,123.59 499.5,124.87 499.8,126.28 500.1,125.88 500.4,127.05 500.7,126.82 501,127.62 501.3,128.64 501.6,128.67 501.9,128.94 502.21,129.79 502.51,129.5 502.82,130.04 503.12,129.55 503.43,129.64 503.73,130.03 504.04,130 504.34,131.11 504.65,130.46 504.95,130.96 505.26,130.6 505.56,131.27 505.87,131.26 506.17,131.46 506.48,131.22 506.78,131.46 507.09,132.48 507.39,132.08 507.7,132.12 508,132.23 508.31,132.23 508.62,132.06 508.93,131.7 509.23,132.35 509.54,131.85 509.85,131.51 510.16,132.06 510.47,131.21 510.77,131.31 511.08,131.88 511.39,130.92 511.7,131.18 512.01,131.54 512.32,131.39 512.62,130.5 512.93,130.62 513.24,130.95 513.55,130.43 513.86,131.01 514.17,130 514.48,130.78 514.78,130.13 515.09,129.69 515.4,129.84 515.7,129.38 516.01,129.99 516.31,129.38 516.62,130.06 516.92,129.61 517.23,129.27 517.53,129.04 517.83,129.4 518.14,128.84 518.44,129.56 518.75,128.58 519.05,128.97 519.35,128.92 519.66,128.52 519.96,129.04 520.27,128.5 520.57,128.74 520.88,128.56 521.18,128.17 521.48,128.18 521.79,127.74 522.09,127.77 522.4,128.5 522.7,127.79 523,128.16 523.31,127.46 523.61,127.96 523.92,127.68 524.22,127.81 524.53,127.53 524.83,127.22 525.13,127.47 525.44,127.33 525.74,127.18 526.05,127.85 526.35,127.29 526.65,127.4 526.96,127.97 527.26,127.77 527.57,127.86 527.87,127.8 528.17,126.88 528.48,127.02 528.78,126.69 529.09,127.43 529.39,127.37 529.7,126.96 530,127 530.31,127.2 530.61,127.16 530.92,126.53 531.23,127.16 531.53,126.47 531.84,126.71 532.15,126.09 532.45,125.92 532.76,126.79 533.07,126.48 533.37,126.37 533.68,125.47 533.99,125.38 534.29,125.43 534.6,125.39 534.91,125.42 535.21,125.43 535.52,124.93 535.83,125.16 536.13,125.47 536.44,124.83 536.75,125.53 537.05,125.11 537.36,125.2 537.67,124.56 537.97,124.68 538.28,124.89 538.59,124.4 538.89,123.89 539.2,124.8 539.51,124.78 539.81,124.24 540.12,124 540.42,125.02 540.73,124.78 541.03,124.16 541.34,124.44 541.64,124.33 541.95,125.2 542.26,124.55 542.56,125.45 542.87,125.3 543.17,124.55 543.48,125.33 543.78,125.02 544.09,125.5 544.39,125.64 544.7,125.04 545,124.69 545.31,125.6 545.61,124.86 545.92,125.35 546.22,124.95 546.53,124.89 546.83,124.88 547.13,124.52 547.44,124.19 547.74,123.6 548.05,124.25 548.35,123.81 548.65,123.8 548.96,124.18 549.26,123.1 549.57,123.75 549.87,122.77 550.17,123.44 550.48,123.45 550.78,122.68 551.09,122.91 551.39,123.3 551.7,122.78 552,122.55 552.31,122.26 552.63,122.09 552.94,122.51 553.25,122.63 553.57,122.44 553.88,122.63 554.19,122.48 554.51,123.23 554.82,123.24 555.13,122.79 555.45,122.85 555.76,123.24 556.07,123.21 556.39,123.86 556.7,123.22 557,123.47 557.3,124.47 557.6,123.89 557.9,124.7 558.2,124.73 558.5,125.62 558.8,125.6 559.1,126.17 559.4,125.76 559.7,126.67 560,126.89 560.3,127.03 560.6,127.71 560.9,128.09 561.2,127.54 561.51,127.85 561.81,128.04 562.12,127.96 562.42,127.89 562.73,128.26 563.03,128.27 563.34,128.98 563.64,128.78 563.95,128.49 564.26,128.84 564.56,129.12 564.87,129.1 565.17,128.97 565.48,128.96 565.78,129 566.09,130.28 566.39,130.09 566.7,129.4 567.01,130.08 567.31,130.31 567.62,129.73 567.92,129.1 568.23,129.47 568.53,129.32 568.84,128.94 569.14,129.29 569.45,128.56 569.76,129.57 570.06,129.16 570.37,129.05 570.67,129.34 570.98,128.92 571.28,128.35 571.59,128.26 571.89,128.05 572.2,127.83 572.51,128.77 572.82,128.89 573.13,128.28 573.43,128.19 573.74,128.78 574.05,129.07 574.36,129.21 574.67,128.35 574.98,129.13 575.29,129.23 575.59,129.16 575.9,128.71 576.21,128.58 576.52,129.39 576.83,128.83 577.14,128.93 577.45,129.19 577.75,129.01 578.06,129.61 578.37,128.94 578.68,128.75 578.99,129.42 579.3,129.54 579.61,129.81 579.91,129.72 580.22,130 580.53,130.09 580.84,129.59 581.15,129.64 581.46,129.27 581.77,129.49 582.07,129.87 582.38,129.31 582.69,130.08 583,129.9"/>
<polyline clip-path="url(#ctr)" fill="none" stroke="#063406" stroke-width="1.5" stroke-linejoin="round" points="343.2,101.4 343.61,100.88 344.01,101.46 344.42,102.49 344.82,100.99 345.23,100.98 345.64,101.78 346.04,101.41 346.45,102.45 346.86,101.24 347.26,102.83 347.67,102.93 348.07,102.89 348.48,102.32 348.89,102.15 349.29,102.91 349.7,102.73 350.1,102.42 350.5,102.14 350.9,102.18 351.3,102.46 351.7,102.61 352.1,102.62 352.5,101.15 352.9,101.25 353.3,101.38 353.7,101.46 354.1,100.94 354.5,100.53 354.9,100.2 355.3,100.49 355.7,100.6 356.1,101.39 356.5,101.14 356.9,100.93 357.3,100.99 357.7,100.83 358.11,100.8 358.52,101.74 358.94,100.97 359.35,102.67 359.76,103.13 360.18,103.16 360.59,104.24 361,105.52 361.43,104.45 361.85,104.54 362.27,103.7 362.7,103.57 363.12,104.33 363.55,102.58 363.97,102.65 364.4,103.32 364.81,102.85 365.21,102.14 365.62,103.12 366.02,102.55 366.43,102.87 366.83,102.52 367.24,102.67 367.64,102.67 368.05,102.31 368.46,101.75 368.86,101.81 369.27,103.04 369.67,102.36 370.08,101.52 370.48,102.82 370.89,101.67 371.29,101.33 371.7,102.06 372.1,101.42 372.5,101.71 372.9,101.7 373.3,100.97 373.7,101.46 374.1,100.5 374.5,101.09 374.9,101.09 375.3,100.04 375.7,100.5 376.1,99.77 376.5,100.29 376.9,100.92 377.3,100.22 377.7,100.39 378.12,100.42 378.54,99.23 378.96,100.77 379.38,100.25 379.79,99.1 380.21,100.37 380.63,99.54 381.05,99.11 381.47,100.49 381.89,99.74 382.31,100.08 382.72,98.9 383.14,100.01 383.56,98.68 383.98,98.96 384.4,99.17 384.81,98.63 385.22,99.77 385.62,99.18 386.03,99.44 386.44,100.27 386.85,99.87 387.25,100.8 387.66,100.42 388.07,100.97 388.48,100.51 388.88,101.25 389.29,101.27 389.7,100.1 390.1,101.32 390.5,100.77 390.9,101.71 391.3,101.74 391.7,102.19 392.1,101.1 392.5,101.73 392.9,102.57 393.3,103.13 393.7,102.9 394.1,101.86 394.5,103.05 394.9,102.32 395.3,103.31 395.7,103.95 396.13,102.52 396.55,103.8 396.98,103.17 397.41,102.23 397.84,101.94 398.26,102.21 398.69,102.74 399.12,102.09 399.55,101.07 399.97,100.72 400.4,100.7 400.83,102.42 401.27,101.8 401.7,102.95 402.13,102.96 402.57,104.15 403,104.09 403.4,103.57 403.8,104.79 404.2,104.09 404.6,104.26 405,104.38 405.4,104.54 405.8,102.77 406.2,103.26 406.6,102.82 407,103.36 407.4,103.94 407.8,103.71 408.2,102.24 408.6,102.41 409,103.46 409.4,103.12 409.8,102.51 410.23,102.32 410.67,101.42 411.1,102.32 411.53,101.17 411.97,101.7 412.4,100.9 412.82,99.52 413.25,99.57 413.68,98.95 414.1,100.63 414.52,98.99 414.95,96.4 415.38,96.49 415.8,96.84 416.23,96.4 416.67,95.97 417.1,94.35 417.53,93.35 417.97,91.09 418.4,92.52 418.8,92.3 419.2,91.8 419.6,94.32 420,97.19 420.4,94.18 420.8,95.66 421.2,98.84 421.6,98.33 422,99.41 422.4,101.4 422.88,100.85 423.35,102.48 423.82,102.71 424.3,104.83 424.75,103.64 425.2,98.47 425.65,99.24 426.1,98.75 426.55,97.82 427,96.1 427.4,96.2 427.8,96.88 428.2,96.46 428.6,96.81 429,99.53 429.4,100.51 429.8,101.44 430.2,101.09 430.6,100.25 431,102.75 431.42,103.17 431.83,102.77 432.25,103.79 432.66,103.16 433.08,104.48 433.49,104.42 433.91,103.55 434.32,105.17 434.74,105.63 435.15,108.81 435.57,107.3 435.98,107.35 436.4,107.37 436.83,105.34 437.27,103.8 437.7,100.94 438.13,98.43 438.57,99.88 439,96.21 439.4,96.64 439.8,97.59 440.2,96.99 440.6,96.92 441,96.97 441.4,98.37 441.8,98.85 442.2,100.99 442.6,100.75 443,102.75 443.4,99.9 443.8,101.76 444.2,99.95 444.6,97.48 445,97.41 445.4,98.56 445.8,99.73 446.2,96.75 446.6,97.96 447,96.11 447.43,98.79 447.85,96.5 448.27,99.08 448.7,101.65 449.12,100.07 449.55,100.91 449.97,100.88 450.4,102.36 450.81,101.86 451.22,102.69 451.64,99.84 452.05,99.65 452.46,97.94 452.88,98.64 453.29,98.77 453.7,96.99 454.1,94.85 454.5,96.66 454.9,97.23 455.3,95.44 455.7,93.02 456.1,95.6 456.5,95.52 456.9,93.04 457.3,91.89 457.7,91.75 458.11,93.9 458.52,96 458.94,95.81 459.35,97.69 459.76,95.6 460.18,96.98 460.59,99 461,99.45 461.4,100.32 461.8,102.74 462.2,103.31 462.6,104.07 463,106.74 463.4,106.04 463.8,108.18 464.2,107.7 464.6,108.58 465,109.29 465.4,108.67 465.8,109.69 466.2,108.74 466.6,111.88 467,111.19 467.45,113.13 467.9,111 468.35,113.34 468.8,114.34 469.25,113.82 469.7,113.78 470.1,114.11 470.5,114.21 470.9,116.22 471.3,114.33 471.7,116.64 472.1,115.61 472.5,116.1 472.9,116.39 473.3,116.42 473.7,116.87 474.1,116.56 474.5,115.61 474.9,116.7 475.3,115.11 475.7,116.33 476.1,116.35 476.5,116.25 476.9,114.71 477.3,115.96 477.7,116.43 478.15,113.53 478.6,111.67 479.05,111.07 479.5,110.99 479.95,107.23 480.4,105.53 480.83,105.73 481.27,105.19 481.7,104.44 482.13,102.31 482.57,104.13 483,100.67 483.45,102.51 483.9,99.81 484.35,99.41 484.8,99.64 485.25,99.2 485.7,100.71 486.1,99.71 486.5,97.09 486.9,98.77 487.3,95.39 487.7,93.37 488.1,94.13 488.5,96.92 488.9,98.28 489.3,96.06 489.7,96.21 490.1,99.46 490.5,97.82 490.9,101.03 491.3,99.6 491.7,100.52 492.1,100.91 492.5,104.14 492.9,104.35 493.3,105.33 493.77,105.23 494.25,99.91 494.73,99.99 495.2,95.15 495.62,97.42 496.04,96.56 496.47,98.38 496.89,95.39 497.31,97.38 497.73,96.86 498.16,98.86 498.58,99.02 499,97.88 499.43,97.58 499.85,98.91 500.27,100.17 500.7,102.05 501.12,101.03 501.54,100.68 501.95,102.55 502.37,101.86 502.79,100.31 503.21,102.71 503.63,99.5 504.05,100.6 504.46,98.79 504.88,101.23 505.3,101 505.75,98.25 506.2,99.63 506.65,99.44 507.1,96.92 507.55,96.65 508,96.77 508.45,97.85 508.9,94.61 509.31,97.52 509.72,98.12 510.13,98.49 510.54,99.89 510.96,101.97 511.37,100.33 511.78,103.81 512.19,102.75 512.6,105.26 513.01,105.62 513.43,103.06 513.84,105.69 514.26,106.22 514.67,103.61 515.09,102.61 515.5,102.97 515.91,106.29 516.33,102.66 516.74,106.12 517.16,103.27 517.57,105.53 517.99,103.13 518.4,103.44 518.81,105.6 519.23,103.56 519.64,104.71 520.05,107.12 520.46,106.55 520.88,107.39 521.29,107.97 521.7,104.58 522.11,105.55 522.52,107.87 522.94,107.69 523.35,105.42 523.76,107.4 524.17,106.57 524.59,107.53 525,106.5 525.42,106.3 525.84,110.11 526.26,107.68 526.67,109.94 527.09,107.18 527.51,108.7 527.93,107.49 528.35,108.73 528.77,107.91 529.19,109.95 529.61,108.04 530.03,110.41 530.44,109.63 530.86,108.28 531.28,109.32 531.7,109.99 532.12,111.76 532.54,109.77 532.96,109.42 533.38,112.45 533.79,112.3 534.21,111.89 534.63,110.32 535.05,110.12 535.47,110.62 535.89,110.05 536.31,110.12 536.73,112.06 537.14,111.84 537.56,112.58 537.98,112.01 538.4,110.84 538.82,113.11 539.24,112.68 539.65,111.97 540.07,111.69 540.49,111.92 540.91,112.73 541.33,112.02 541.75,111.13 542.16,109.62 542.58,109.01 543,109.09 543.41,111.42 543.82,109.42 544.23,109.63 544.64,109.95 545.06,109.65 545.47,111.93 545.88,109.77 546.29,111.44 546.7,112.42 547.11,111.03 547.52,112.11 547.93,111.77 548.34,111.67 548.76,111.79 549.17,111.81 549.58,113.78 549.99,113.86 550.4,114.38 550.81,112.26 551.22,113.76 551.62,112.82 552.03,113.54 552.44,113.25 552.85,112.63 553.25,114.15 553.66,111.77 554.07,113.51 554.48,113.71 554.88,112.83 555.29,112.98 555.7,113.89 556.1,111.53 556.5,111.95 556.9,111.69 557.3,110.29 557.7,110.56 558.1,109.26 558.5,109.05 558.9,108.73 559.3,108.36 559.7,106.97 560.1,107.24 560.5,106.56 560.9,105.33 561.3,105.79 561.7,104.49 562.1,105.56 562.5,104.05 562.9,104.17 563.3,103.22 563.7,102.64 564.13,101.49 564.55,100.75 564.98,102.09 565.41,100.59 565.84,100.03 566.26,99.49 566.69,99.63 567.12,97.71 567.55,97 567.97,98.02 568.4,96.6 568.8,98.64 569.2,100.69 569.6,102.45 570,103.98 570.4,103.6 570.82,104.36 571.23,105.39 571.65,105.3 572.06,103.58 572.48,103.6 572.89,103.78 573.31,103.37 573.72,103.93 574.14,104.94 574.55,104.21 574.97,103.99 575.38,103.07 575.8,103.75 576.22,104.89 576.64,103.87 577.05,102.98 577.47,102.75 577.89,103.22 578.31,102.82 578.73,101.06 579.15,102.03 579.56,100.98 579.98,101.05 580.4,100.07 580.83,100.51 581.27,100.55 581.7,100.76 582.13,100.01 582.57,100.57 583,101.4"/>
<polyline clip-path="url(#ctr)" fill="none" stroke="#1818b8" stroke-width="1.5" stroke-linejoin="round" points="343.2,90.2 343.61,90.31 344.01,89.42 344.42,89.62 344.82,90.52 345.23,89.75 345.64,89.83 346.04,89.67 346.45,90.67 346.86,89.39 347.26,90.31 347.67,90.67 348.07,89.54 348.48,89.91 348.89,90.52 349.29,90.21 349.7,89.78 350.12,89.26 350.54,89.98 350.96,89.89 351.38,90.51 351.79,89.84 352.21,90.07 352.63,90.51 353.05,90.83 353.47,90.09 353.89,90.18 354.31,90.55 354.72,91.17 355.14,89.96 355.56,91.33 355.98,90.92 356.4,90.38 356.82,90.75 357.24,90.04 357.65,89.46 358.07,90.49 358.49,89.71 358.91,89.83 359.33,89.64 359.75,90.19 360.16,89.81 360.58,88.43 361,89.26 361.47,89.9 361.93,90.77 362.4,92.28 362.81,91.5 363.21,91.54 363.62,92.2 364.02,91.38 364.43,91.41 364.83,91.39 365.24,91.86 365.64,91.55 366.05,91.61 366.46,90.98 366.86,90.31 367.27,91.34 367.67,91.07 368.08,91.38 368.48,91.33 368.89,90.16 369.29,90.28 369.7,89.98 370.11,91.33 370.53,90.21 370.94,90.29 371.36,91.51 371.77,91.29 372.19,90.51 372.6,91.67 373.01,91.82 373.43,91.53 373.84,90.9 374.26,92.07 374.67,91.7 375.09,92.08 375.5,92.88 375.91,92.67 376.33,92.86 376.74,91.72 377.16,92.13 377.57,92.54 377.99,91.77 378.4,93.53 378.82,92.07 379.24,91.81 379.65,91.65 380.07,91.3 380.49,92.08 380.91,91.32 381.33,91 381.75,90.6 382.16,89.73 382.58,89.91 383,90.62 383.42,90.54 383.84,90.66 384.26,89.66 384.68,89.59 385.09,89.36 385.51,90.21 385.93,89.96 386.35,90.14 386.77,90.21 387.19,90.39 387.61,90.05 388.02,90.81 388.44,89.82 388.86,91.06 389.28,90.47 389.7,89.64 390.12,90.17 390.54,90.62 390.96,90.49 391.38,90.84 391.79,90.51 392.21,90.5 392.63,91.47 393.05,90.7 393.47,91.49 393.89,91.73 394.31,91.45 394.72,91.3 395.14,92.2 395.56,91.44 395.98,92.26 396.4,90.95 396.83,90.85 397.27,90.47 397.7,88.73 398.13,89.38 398.57,87.31 399,87.46 399.45,86.54 399.9,87.58 400.35,86.75 400.8,86.94 401.25,86.21 401.7,86.3 402.11,86.4 402.52,85.85 402.92,85.81 403.33,86.98 403.74,85.9 404.15,87.31 404.55,86.2 404.96,86.12 405.37,86.21 405.78,87.48 406.18,87.87 406.59,87.05 407,87.57 407.41,87.03 407.82,88.27 408.23,88.04 408.64,87.27 409.05,87.25 409.46,88.47 409.87,87.5 410.28,88.99 410.69,88.21 411.1,88.25 411.51,88.41 411.93,87.54 412.34,87.53 412.75,86.41 413.16,87.28 413.57,85.85 413.99,86.31 414.4,84.39 414.85,86.53 415.3,87.45 415.75,86.37 416.2,85.89 416.65,87.24 417.1,88.37 417.55,86.86 418,87.29 418.45,85.69 418.9,86.24 419.35,86.51 419.8,85.32 420.26,86.38 420.71,85.33 421.17,87.6 421.63,86.17 422.09,88.67 422.54,89.28 423,89.54 423.4,88.26 423.8,87.44 424.2,87.37 424.6,88.21 425,87.34 425.4,88.26 425.8,85.87 426.2,86.68 426.6,87.46 427,86.55 427.45,86.97 427.9,86.36 428.35,87.06 428.8,87.97 429.25,90.16 429.7,90.6 430.1,88.86 430.5,90.54 430.9,88.09 431.3,89.44 431.7,90.27 432.1,88.52 432.5,89.95 432.9,89.07 433.3,87.36 433.7,87.97 434.11,88.52 434.52,88.25 434.92,89.79 435.33,88.58 435.74,90.42 436.15,89.4 436.55,89.06 436.96,90.58 437.37,89.63 437.78,91.07 438.18,91.94 438.59,91.69 439,91.6 439.42,90.39 439.83,91.53 440.25,90.35 440.66,91.68 441.08,90.24 441.49,91.3 441.91,90.62 442.32,90.57 442.74,91.22 443.15,89.83 443.57,89.74 443.98,91.65 444.4,89.96 444.81,91.24 445.22,91.26 445.62,90.19 446.03,89.27 446.44,89.08 446.85,91.06 447.25,89.03 447.66,89.96 448.07,90.01 448.48,88.87 448.88,89.72 449.29,88.88 449.7,89.79 450.1,90.19 450.5,90.29 450.9,90.32 451.3,91.33 451.7,91.28 452.1,91.55 452.5,92.31 452.9,94.43 453.3,93.93 453.7,95.42 454.11,93.19 454.52,95.64 454.92,94.51 455.33,95.34 455.74,94.81 456.15,95.17 456.55,94.02 456.96,95.42 457.37,93.91 457.78,94.25 458.18,93.69 458.59,94.68 459,95.05 459.42,94.41 459.83,95.92 460.25,93.53 460.66,95.07 461.08,93.92 461.49,95.03 461.91,95.59 462.32,95.31 462.74,93.18 463.15,93.72 463.57,94.81 463.98,95.99 464.4,92.93 464.8,95.02 465.2,95.49 465.6,96.13 466,94.85 466.4,96.59 466.8,95.72 467.2,97.43 467.6,94.75 468,97.97 468.4,96.52 468.83,95.7 469.27,93.88 469.7,93.58 470.13,94.35 470.57,93.37 471,90.88 471.43,91.93 471.85,91.7 472.27,92.31 472.7,92.8 473.12,93.58 473.55,96.07 473.97,96.57 474.4,96.33 474.83,95.44 475.27,95.59 475.7,96.59 476.13,97.11 476.57,96.7 477,96.44 477.45,95.15 477.9,96.63 478.35,97.46 478.8,97.38 479.25,95.28 479.7,97.4 480.1,95.56 480.5,94.3 480.9,96.21 481.3,94.61 481.7,94.19 482.15,91 482.6,91.98 483.05,91.1 483.5,89.76 483.95,88.02 484.4,87.06 484.83,87.42 485.27,87.19 485.7,87.14 486.13,88.84 486.57,89.16 487,89.89 487.43,87.64 487.85,89.35 488.27,87.56 488.7,88.48 489.12,85.41 489.55,87.72 489.97,86.73 490.4,84.61 490.8,87.28 491.2,86.14 491.6,86.83 492,88.47 492.4,88.56 492.8,90.9 493.2,93.75 493.6,94.55 494,96.15 494.4,96.65 494.8,95.99 495.2,94.1 495.6,91.83 496,90.73 496.4,88.44 496.8,87.16 497.2,86.2 497.6,88.07 498,88.72 498.4,87.19 498.8,88.06 499.2,88.9 499.6,88.82 500,86.35 500.4,87.96 500.81,86.34 501.22,86.52 501.62,88.65 502.03,87.28 502.44,87.76 502.85,87.17 503.25,86.67 503.66,86.16 504.07,86.49 504.48,87.95 504.88,87.11 505.29,85.95 505.7,85.18 506.11,85.57 506.52,86.76 506.92,85.74 507.33,86.25 507.74,86.52 508.15,84.13 508.55,85.74 508.96,83.49 509.37,85.8 509.78,83.57 510.18,83.65 510.59,85.66 511,83.56 511.4,83.3 511.8,85.61 512.2,84.89 512.6,85.98 513,84.56 513.4,85.08 513.8,86.72 514.2,85.46 514.6,87.18 515,84.81 515.4,87.04 515.8,85.08 516.2,86.43 516.6,84.92 517,85.66 517.42,88.02 517.83,86.35 518.25,87.39 518.66,85.5 519.08,85.73 519.49,84.82 519.91,86.17 520.32,87.06 520.74,85.84 521.15,85.31 521.57,86.97 521.98,86.76 522.4,85.93 522.8,84.44 523.2,86.6 523.6,86.42 524,88.47 524.4,86.96 524.8,88.32 525.2,88.62 525.6,88.2 526,89.07 526.4,89.96 526.8,90.23 527.2,88.45 527.6,87.55 528,89.04 528.4,85.63 528.8,87.65 529.2,86.7 529.6,85.82 530,85 530.4,85.5 530.8,86.42 531.2,86.37 531.6,86.91 532,85.09 532.4,86.49 532.8,86.36 533.2,89.44 533.6,89.71 534,87.79 534.4,89.68 534.81,89.68 535.23,88.02 535.64,89.17 536.05,90.34 536.46,90.04 536.88,88.92 537.29,90.5 537.7,89.03 538.11,89.88 538.52,89.52 538.94,91.34 539.35,90.33 539.76,90.86 540.17,90.49 540.59,89.58 541,91.48 541.42,90.62 541.83,90.52 542.25,89.15 542.66,88.73 543.08,90.01 543.49,90.77 543.91,90.62 544.32,89.14 544.74,88.43 545.15,89.57 545.57,90.13 545.98,88.87 546.4,89.81 546.81,88.97 547.23,89.33 547.64,89.02 548.05,89.56 548.46,89.83 548.88,90.94 549.29,91.06 549.7,89.87 550.11,90.2 550.52,91.4 550.94,90.26 551.35,90.6 551.76,90.92 552.17,90.48 552.59,90.87 553,91.22 553.42,91.04 553.84,91.85 554.26,90.5 554.67,90.22 555.09,91.25 555.51,90.3 555.93,90.79 556.35,90.28 556.77,90.35 557.19,89.4 557.61,88.95 558.03,89.81 558.44,89.16 558.86,89.14 559.28,89.16 559.7,89.13 560.15,88.87 560.6,89.57 561.05,91.06 561.5,90.95 561.95,91.09 562.4,92.22 562.8,91.37 563.2,92.02 563.6,90.56 564,91.68 564.4,91.01 564.8,90.43 565.2,91.21 565.6,89.84 566,89.58 566.4,89.07 566.8,89.66 567.2,89.79 567.6,89.44 568,88.77 568.4,89.22 568.82,88.34 569.25,88.97 569.67,89.85 570.1,90.69 570.52,90.43 570.95,90.83 571.38,91.27 571.8,90.92 572.2,91.83 572.6,91.48 573,90.79 573.4,90.86 573.8,91.55 574.2,90.76 574.6,90.47 575,91.62 575.4,91.03 575.8,90.99 576.2,91.23 576.6,91.61 577,90.29 577.4,90.63 577.8,90.15 578.2,90.72 578.6,90.86 579,91.44 579.4,91.11 579.8,90.95 580.2,90.64 580.6,90.91 581,90.39 581.4,91.34 581.8,91.23 582.2,91.3 582.6,90.12 583,90.7"/>
<polyline clip-path="url(#cbl)" fill="none" stroke="#063406" stroke-width="1.3" stroke-linejoin="round" points="54.45,161.2 71,166.6 87.55,165 104.1,168 120.65,181 137.2,172.5 153.75,164 170.3,185 186.85,188.5 203.4,199.7 219.95,196.7 236.5,201.3 253.05,194 269.6,197.7 286.15,194.6 302.7,196"/>
<polyline clip-path="url(#cbl)" fill="none" stroke="#dc1616" stroke-width="1.3" stroke-linejoin="round" points="54.45,200.8 71,202.6 87.55,206.6 104.1,184 120.65,191 137.2,180 153.75,211 170.3,219.5 186.85,270.6 203.4,216.5 219.95,205.8 236.5,203.8 253.05,204.2 269.6,198.1 286.15,195.7 302.7,190.5"/>
<polyline clip-path="url(#cbl)" fill="none" stroke="#1818b8" stroke-width="1.3" stroke-linejoin="round" points="54.45,194.6 71,194.6 87.55,204 104.1,195.4 120.65,207 137.2,196 153.75,192 170.3,172.6 186.85,203.4 203.4,210.3 219.95,196.7 236.5,193.2 253.05,194.2 269.6,196.7 286.15,197.3 302.7,190.8"/>
<polyline clip-path="url(#cbr)" fill="none" stroke="#063406" stroke-width="1.4" stroke-linejoin="round" points="343.2,234 345.7,233.4 349.7,236.7 354.3,235 358.4,239.4 362.4,230.7 366.4,228 371,226.7 375.7,234 379.7,231.4 383.7,234 387.7,223.4 391.7,228.7 396.4,232 400.4,227.4 404.4,235.4 408.4,237.4 412.4,207.3 416.4,207.3 420.7,222.7 424.7,201.4 429.4,204 433.4,222 438,199.4 442,199.4 446,200 454,200 458.3,208.5 462,212.8 466.7,222.2 470.7,198.7 479,196.4 483.1,207.1 487.2,219.2 491,201.8 495.5,208.1 499.6,194 503.8,195 507.9,217.4 511.7,202.5 516.4,204.6 520.4,201.6 524.4,199.1 529,197.2 533.1,197.3 537.1,191.7 541.1,190.7 545.2,189.2 549.2,187.2 553.2,186.7 557.3,195.2 561.3,194.7 565.3,192.7 569.4,190.7 573.4,194.2 577.4,198.3 580.4,196.3 583,191.7"/>
<polyline clip-path="url(#cbr)" fill="none" stroke="#dc1616" stroke-width="1.4" stroke-linejoin="round" points="343.2,199.7 345.7,203 349,201.7 354.3,197 359,193.7 363,178.4 367,177.3 371,184.4 375.7,177.7 379.7,182 383.7,179.7 387.7,182.4 391.7,187 396.4,183 399.7,192.4 404,193.8 409.1,197.2 413,261 417.1,268 421.1,197.4 425.1,273.4 433.4,245.3 438,268.7 442,260 446,262 450,269.4 454,258.7 458,257.6 462.2,250.3 466.7,251.2 470.7,240.6 474.8,238.1 479.3,235.6 483.3,216.5 487.6,197.6 491.7,201.1 495.2,196 499.5,204 503.3,190 507.6,185.6 511.3,185.6 515.9,180.1 520.4,176.6 524.9,182.1 529,184.7 533.1,186.2 537.1,188.2 541.1,189.2 545.2,190.2 549.2,196.3 553.2,196.8 557.3,189.2 561.3,190.7 565.3,195.2 569.4,190.7 573.4,191.2 577.4,189.7 581.5,193.2 583,190.2"/>
<polyline clip-path="url(#cbr)" fill="none" stroke="#1818b8" stroke-width="1.4" stroke-linejoin="round" points="343.2,206 345.7,212 349.7,206 354.3,201 358.4,197.7 362.4,200.5 366.4,203.7 371,216 375.7,200.8 379.7,202.4 383.7,200.4 387.7,202.4 391.7,209.3 396.4,203.7 400,189.3 404.2,186.4 407.6,194.5 409,185.2 412.7,189.3 416.6,193.5 420.7,200.9 429.1,189.7 433.6,196.8 437.6,185.7 441.7,182.6 446.2,187 450.2,186.4 454.3,184.2 458.1,177.1 462.3,194.2 466.4,196.8 469.9,197.1 474.4,193.7 479.3,188.6 487.1,191.2 491.2,201.3 495.2,190.7 499.2,201.3 503.3,200.2 507.3,199.7 512.3,202.3 520.4,183.1 524.6,194.2 529,190.7 533.1,190.2 537.1,187.7 541.1,194.2 545.2,184.7 549.2,188.2 553.2,188.2 557.3,182.6 561.3,181.1 565.3,189.7 569.4,183.6 573.4,181.6 577.4,181.1 581.5,188.2 583,191.2"/>
<rect x="58.9" y="17.6" width="240.1" height="125.9" fill="none" stroke="#111" stroke-width="1.5"/>
<rect x="343.3" y="17.6" width="239.7" height="125.9" fill="none" stroke="#111" stroke-width="1.5"/>
<rect x="58.9" y="156.6" width="240.1" height="126" fill="none" stroke="#111" stroke-width="1.5"/>
<rect x="343.3" y="156.6" width="239.7" height="126" fill="none" stroke="#111" stroke-width="1.5"/>
<text class="tl" x="54.2" y="54.76" text-anchor="end">40</text>
<text class="tl" x="337.8" y="54.76" text-anchor="end">40</text>
<text class="tl" x="54.2" y="97" text-anchor="end">0</text>
<text class="tl" x="337.8" y="97" text-anchor="end">0</text>
<text class="tl" x="54.2" y="139.24" text-anchor="end">-40</text>
<text class="tl" x="337.8" y="139.24" text-anchor="end">-40</text>
<text class="tl" x="54" y="169.2" text-anchor="end">50</text>
<text class="tl" x="54" y="200.6" text-anchor="end">0</text>
<text class="tl" x="54" y="232" text-anchor="end">-50</text>
<text class="tl" x="54" y="263.4" text-anchor="end">-100</text>
<text class="tl" x="337.8" y="197.8" text-anchor="end">0</text>
<text class="tl" x="337.8" y="241.4" text-anchor="end">-50</text>
<text class="tl" x="337.8" y="285" text-anchor="end">-100</text>
<text class="tl" x="40" y="308.6">18:39:00</text>
<text class="tl" x="150.9" y="308.6">18:39:30</text>
<text class="tl" x="264.6" y="308.6">18:40:00</text>
<text class="tl" x="326" y="308.6">18:43</text>
<text class="tl" x="445.8" y="308.6">18:45</text>
<text class="tl" x="564" y="308.6">18:47</text>
<text class="bl" x="8.3" y="333.9">21 January 2005</text>
<text class="bl" x="154.4" y="333.9">Time (UT)</text>
<text class="bl" x="439.6" y="333.9">Time (UT)</text>
<text x="166.2" y="12.3" style="font-size:18px">SB1</text>
<text x="453.0" y="12.3" style="font-size:18px">SB2</text>
<text x="160.5" y="41.9" style="font-size:15.5px">plateau</text>
<text x="456.4" y="46.4" style="font-size:15.5px">plateau</text>
<path d="M180.8 43.2V58.6M177.3 51.9L180.8 58.6L184.4 51.9" stroke="#000" stroke-width="1.3" fill="none"/>
<path d="M475.8 49V80.6M472 74.6L475.8 80.6L479.7 74.6" stroke="#000" stroke-width="1.3" fill="none"/>
<text class="ax" transform="translate(11 128.2) rotate(-90)"><tspan fill="#dc1616" stroke="#dc1616" stroke-width="0.45">B<tspan dy="6" font-size="11px">L</tspan></tspan><tspan fill="#063406" stroke="#063406" stroke-width="0.45" dy="-6"> B<tspan dy="6" font-size="11px">M</tspan></tspan><tspan fill="#1818b8" stroke="#1818b8" stroke-width="0.45" dy="-6"> B<tspan dy="6" font-size="11px">N</tspan></tspan><tspan dy="-6"> (nT)</tspan></text>
<text class="ax" transform="translate(11 273.3) rotate(-90)"><tspan fill="#dc1616" stroke="#dc1616" stroke-width="0.45">V<tspan dy="6" font-size="11px">L</tspan></tspan><tspan fill="#063406" stroke="#063406" stroke-width="0.45" dy="-6"> V<tspan dy="6" font-size="11px">M</tspan></tspan><tspan fill="#1818b8" stroke="#1818b8" stroke-width="0.45" dy="-6"> V<tspan dy="6" font-size="11px">N</tspan></tspan><tspan dy="-6"> (km/s)</tspan></text>
</svg>
</body></html>
